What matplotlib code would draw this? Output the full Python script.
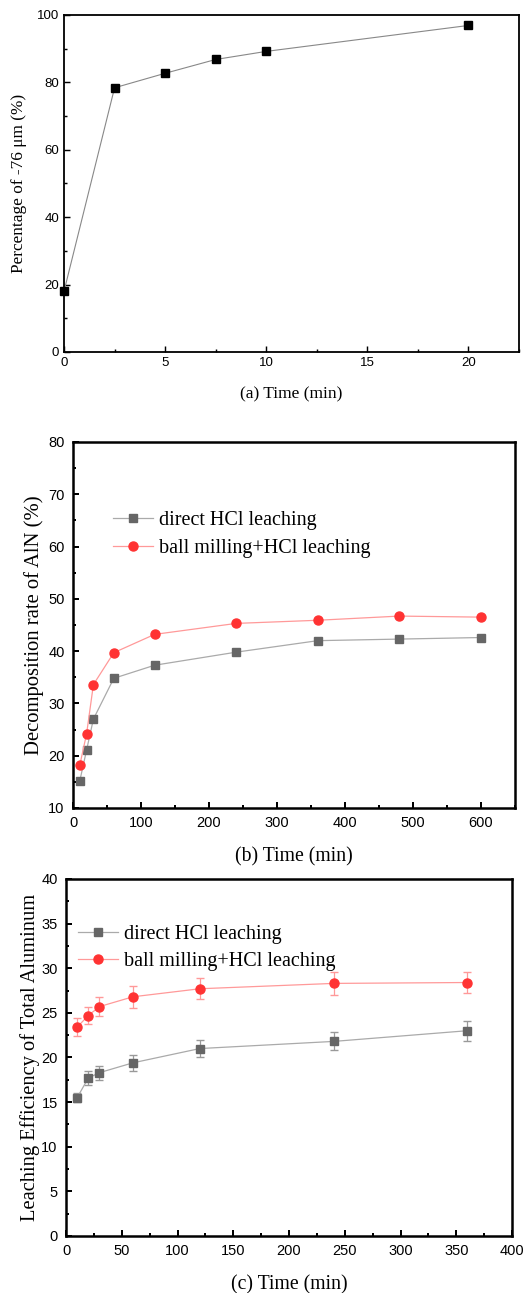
import matplotlib.pyplot as plt
from matplotlib.ticker import MultipleLocator

# (a) grinding
t_a = [0, 2.5, 5, 7.5, 10, 20]
pct_a = [18.0, 78.4, 82.7, 86.8, 89.2, 96.9]

# (b) decomposition rate of AlN
t_b = [10, 20, 30, 60, 120, 240, 360, 480, 600]
direct_b = [15.2, 21.1, 27.0, 34.8, 37.3, 39.8, 42.0, 42.3, 42.6]
ball_b = [18.2, 24.2, 33.6, 39.7, 43.2, 45.3, 45.9, 46.7, 46.5]

# (c) leaching efficiency of total aluminum
t_c = [10, 20, 30, 60, 120, 240, 360]
direct_c = [15.5, 17.7, 18.3, 19.4, 21.0, 21.8, 23.0]
direct_c_err = [0.5, 0.8, 0.8, 0.9, 1.0, 1.0, 1.1]
ball_c = [23.4, 24.7, 25.7, 26.8, 27.7, 28.3, 28.4]
ball_c_err = [1.0, 1.0, 1.1, 1.2, 1.2, 1.3, 1.2]

SERIF = 'Liberation Serif'
SANS = 'Liberation Sans'
GRAY = '#666666'
RED = '#ff3333'


def style_axes(ax, xmaj, xmin, ymaj, ymin, lw, tsize, pad=3.5):
    """ inward ticks on left/bottom only """
    ax.xaxis.set_major_locator(MultipleLocator(xmaj))
    ax.xaxis.set_minor_locator(MultipleLocator(xmin))
    ax.yaxis.set_major_locator(MultipleLocator(ymaj))
    ax.yaxis.set_minor_locator(MultipleLocator(ymin))
    ax.tick_params(which='both', direction='in', top=False, right=False,
                   width=lw * 0.8, pad=pad)
    ax.tick_params(which='major', length=4.5, labelsize=tsize)
    ax.tick_params(which='minor', length=2.5)
    for sp in ax.spines.values():
        sp.set_linewidth(lw)
    for lab in ax.get_xticklabels() + ax.get_yticklabels():
        lab.set_fontfamily(SANS)


fig = plt.figure(figsize=(5.23, 12.93), dpi=100)

# panel (a)
ax1 = fig.add_axes([0.1224, 0.7278, 0.870, 0.2606])
ax1.plot(t_a, pct_a, '-s', color='#888888', lw=0.8, mfc='black', mec='black',
         ms=5.5, clip_on=False)
ax1.set_xlim(0, 22.5)
ax1.set_ylim(0, 100)
style_axes(ax1, 5, 2.5, 20, 10, 1.3, 9.5)
ax1.set_xlabel('(a) Time (min)', family=SERIF, fontsize=12.6, labelpad=13)
ax1.set_ylabel('Percentage of -76 \u03bcm (%)', family=SERIF, fontsize=12.4,
               labelpad=7)

# panel (b)
ax2 = fig.add_axes([0.1396, 0.3751, 0.845, 0.2831])
ax2.plot(t_b, direct_b, '-s', color='#aaaaaa', lw=0.9, mfc=GRAY, mec=GRAY,
         ms=6, label='direct HCl leaching')
ax2.plot(t_b, ball_b, '-o', color='#ff9999', lw=0.9, mfc=RED, mec=RED,
         ms=6.5, label='ball milling+HCl leaching')
ax2.set_xlim(0, 650)
ax2.set_ylim(10, 80)
style_axes(ax2, 100, 50, 10, 5, 1.8, 10.5, pad=6)
ax2.set_xlabel('(b) Time (min)', family=SERIF, fontsize=14.2, labelpad=12)
ax2.set_ylabel('Decomposition rate of AlN (%)', family=SERIF, fontsize=14.9,
               labelpad=3)
ax2.legend(loc='upper left', bbox_to_anchor=(0.09, 0.811), frameon=False,
           prop={'family': SERIF, 'size': 14.5}, handlelength=2.0,
           handletextpad=0.3, labelspacing=0.45, borderpad=0,
           borderaxespad=0)

# panel (c)
ax3 = fig.add_axes([0.1262, 0.0441, 0.8528, 0.2761])
ax3.errorbar(t_c, direct_c, yerr=direct_c_err, fmt='none',
             ecolor='#999999', elinewidth=0.9, capsize=3)
ax3.errorbar(t_c, ball_c, yerr=ball_c_err, fmt='none',
             ecolor='#ff9999', elinewidth=0.9, capsize=3)
ax3.plot(t_c, direct_c, '-s', color='#aaaaaa', lw=0.9, mfc=GRAY, mec=GRAY,
         ms=6, label='direct HCl leaching')
ax3.plot(t_c, ball_c, '-o', color='#ff9999', lw=0.9, mfc=RED, mec=RED,
         ms=6.5, label='ball milling+HCl leaching')
ax3.set_xlim(0, 400)
ax3.set_ylim(0, 40)
style_axes(ax3, 50, 25, 5, 2.5, 1.8, 10.5, pad=6)
ax3.set_xlabel('(c) Time (min)', family=SERIF, fontsize=14.2, labelpad=12)
ax3.set_ylabel('Leaching Efficiency of Total Aluminum', family=SERIF,
               fontsize=14.8, labelpad=1)
ax3.legend(loc='upper left', bbox_to_anchor=(0.027, 0.872), frameon=False,
           prop={'family': SERIF, 'size': 14.5}, handlelength=2.0,
           handletextpad=0.3, labelspacing=0.4, borderpad=0,
           borderaxespad=0)

fig.savefig('out.png', dpi=100)
